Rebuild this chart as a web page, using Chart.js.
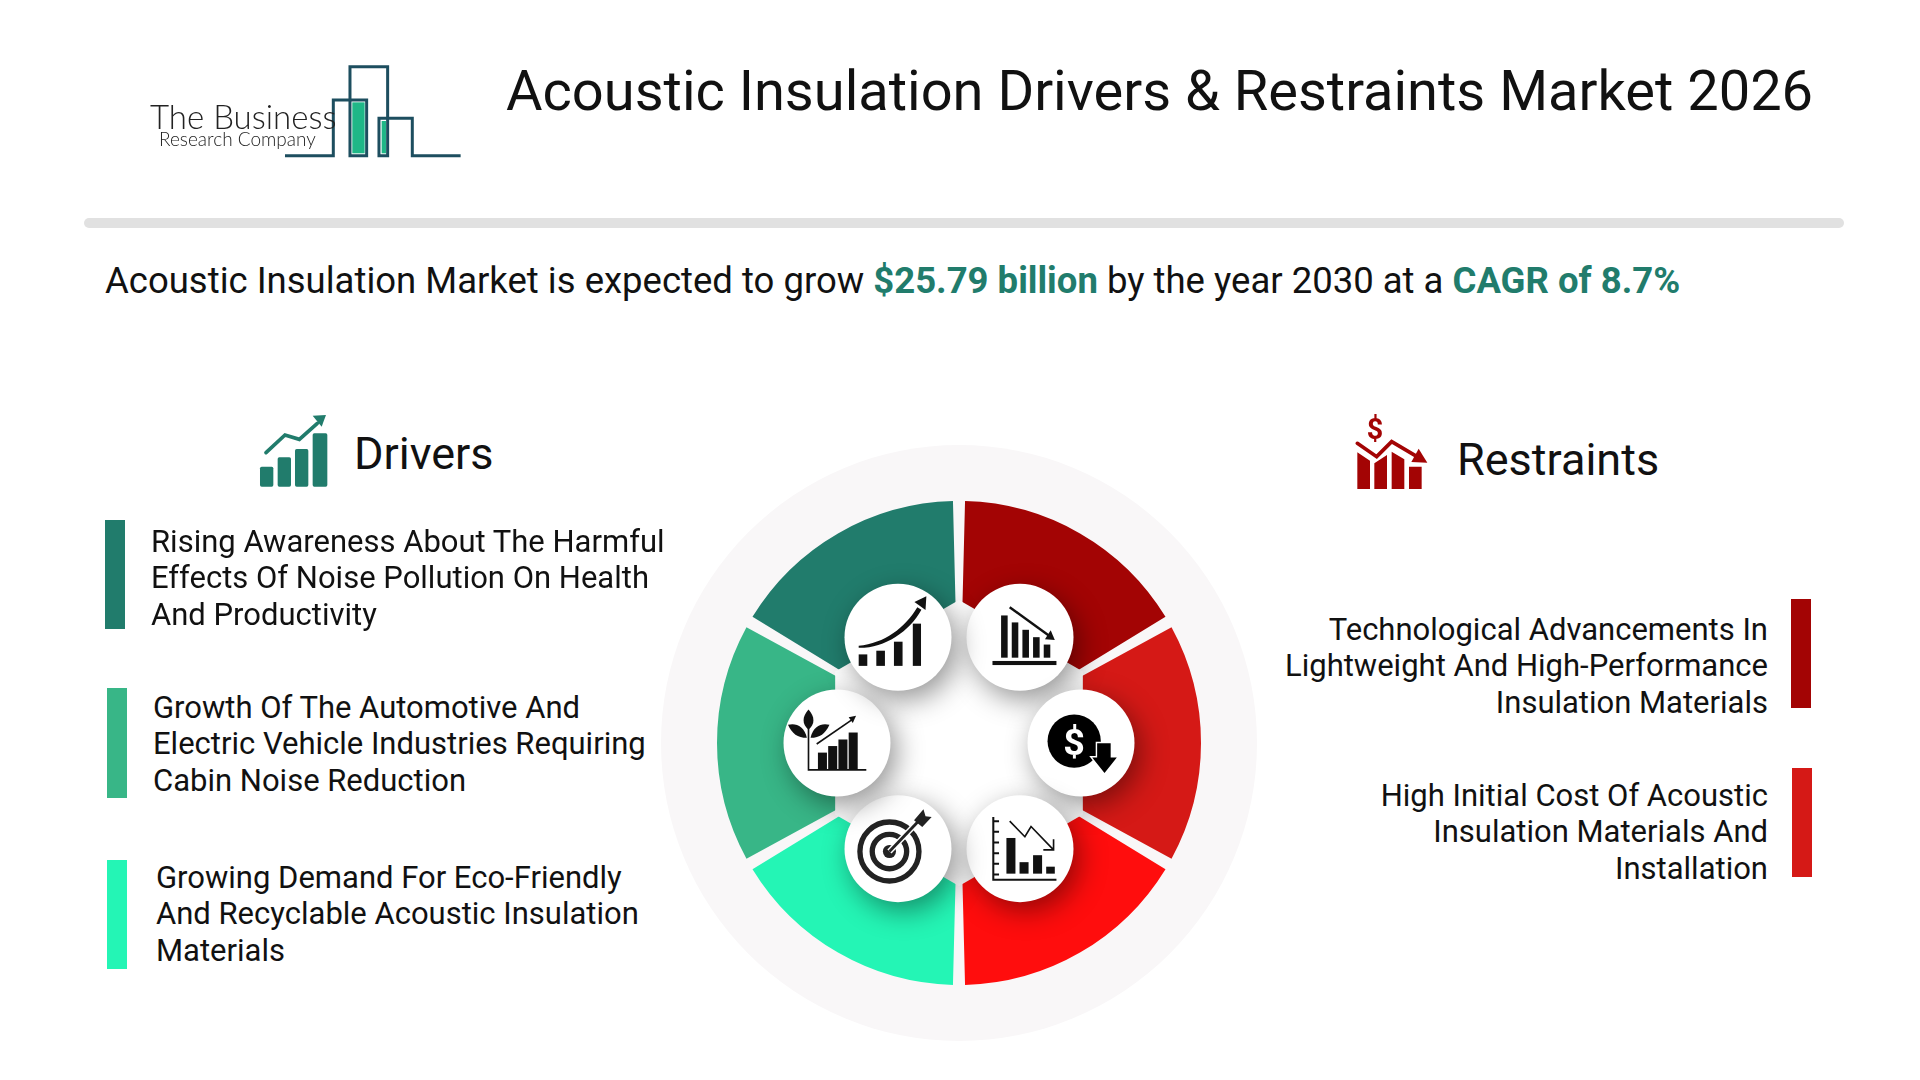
<!DOCTYPE html>
<html><head><meta charset="utf-8">
<script src="https://cdn.jsdelivr.net/npm/chart.js@4"></script>
<style>
html,body{margin:0;padding:0;background:#fff;width:1920px;height:1080px;overflow:hidden}
body{font-family:Roboto,sans-serif;color:#111;position:relative}
.t{position:absolute;white-space:nowrap;line-height:1}
.l{position:absolute;white-space:nowrap;font-size:31px;line-height:36.4px}
.r{text-align:right}
.b{position:absolute;width:20px}
svg{position:absolute;left:0;top:0;z-index:3}
#w{position:absolute;left:649px;top:433px;width:620px;height:620px}
</style></head><body>
<div id="w"><canvas id="c" width="620" height="620"></canvas></div>
<div id="root"></div>
<svg width="1920" height="1080" viewBox="0 0 1920 1080">
 <!-- logo -->
 <g transform="translate(120 40) scale(.3333)">
  <rect x="697" y="187" width="37" height="153" fill="#1fb787"/><rect x="785" y="243" width="13" height="97" fill="#1fb787"/>
  <path d="M495 347H640V180H740V347H690V80H803V347H777V235H877V347H1022" fill="none" stroke="#1d4e5f" stroke-width="9"/>
 </g>
 <text x="150" y="129" font-family="Lato" font-weight="300" font-size="33" fill="#222">The Business</text>
 <text x="159" y="146" font-family="Lato" font-weight="300" font-size="19" fill="#222">Research Company</text>
 <!-- drivers icon -->
 <g transform="translate(240 400) scale(.3333)" fill="#217c6c">
  <rect x="60" y="200" width="40" height="60" rx="5"/><rect x="113" y="172" width="40" height="88" rx="5"/><rect x="165" y="147" width="40" height="113" rx="5"/><rect x="218" y="100" width="44" height="160" rx="5"/>
  <path d="M78 158L135 105L178 118L232 70" fill="none" stroke="#217c6c" stroke-width="11" stroke-linecap="round"/>
  <path d="M218 47L258 45L245 80Z"/>
 </g>
 <!-- restraints icon -->
 <g transform="translate(1340 400) scale(.3333)" fill="#a30404">
  <text x="105" y="118" text-anchor="middle" font-family="Roboto" font-weight="700" font-size="86">$</text>
  <path d="M52 157L90 182V267H52ZM103 190L141 165V267H103ZM155 155L193 178V267H155ZM207 200H245V267H207Z"/>
  <path d="M52 130L110 170L155 125L235 172" fill="none" stroke="#fff" stroke-width="20"/>
  <path d="M52 130L110 170L155 125L235 172" fill="none" stroke="#a30404" stroke-width="11" stroke-linecap="round"/>
  <path d="M236 146L262 188L214 186Z"/>
 </g>
 <!-- icon 1 growth -->
 <g transform="translate(896 638) scale(.41) translate(-628 -525)" fill="#111">
  <rect x="537" y="565" width="21" height="28"/><rect x="580" y="556" width="21" height="37"/><rect x="623" y="534" width="21" height="59"/><rect x="669" y="490" width="20" height="103"/>
  <path d="M537 544C600 538 650 500 680 450L690 456C660 510 600 550 537 549Z"/>
  <path d="M673 437L702 423L700 457Z"/>
 </g>
 <!-- icon 2 falling bars -->
 <g transform="translate(1022 638) scale(.41) translate(-938 -525)" fill="#111">
  <rect x="887" y="470" width="16" height="103"/><rect x="913" y="487" width="16" height="86"/><rect x="939" y="505" width="16" height="68"/><rect x="965" y="523" width="16" height="50"/><rect x="991" y="541" width="16" height="32"/>
  <rect x="866" y="581" width="156" height="10"/>
  <path d="M908 450L1005 520" stroke="#111" stroke-width="6" fill="none"/><path d="M994 528L1018 530L1008 506Z"/>
 </g>
 <!-- icon 3 dollar -->
 <g transform="translate(1075 744) scale(.41) translate(-1068 -797)">
  <circle cx="1066" cy="790" r="65" fill="#000"/>
  <text x="1066" y="823" text-anchor="middle" font-family="Roboto" font-weight="700" font-size="92" fill="#fff">$</text>
  <path d="M1122 795H1155V830H1170L1140 868L1110 830H1122Z" fill="#000" stroke="#fff" stroke-width="7" paint-order="stroke"/>
 </g>
 <!-- icon 4 chart down -->
 <g transform="translate(1022 847) scale(.41) translate(-938 -1055)" fill="#111">
  <path d="M868 982V1135H1022M868 992H882M868 1018H882M868 1044H882M868 1070H882M868 1096H882M868 1122H882" fill="none" stroke="#111" stroke-width="5"/>
  <rect x="900" y="1033" width="22" height="87"/><rect x="932" y="1092" width="22" height="28"/><rect x="965" y="1075" width="22" height="45"/><rect x="997" y="1103" width="21" height="17"/>
  <path d="M908 992L945 1030L960 1005L1015 1062M1015 1036V1062H990" fill="none" stroke="#111" stroke-width="4"/>
 </g>
 <!-- icon 5 target -->
 <g transform="translate(896 847) scale(.41) translate(-628 -1055)">
  <circle cx="612" cy="1066" r="72" fill="none" stroke="#222" stroke-width="13"/>
  <circle cx="612" cy="1066" r="42" fill="none" stroke="#222" stroke-width="13"/>
  <circle cx="612" cy="1066" r="16" fill="#222"/>
  <path d="M612 1066L685 990" stroke="#fff" stroke-width="14"/><path d="M612 1066L685 990" stroke="#222" stroke-width="7"/>
  <path d="M672 990L695 963L700 980L715 982L692 1006Z" fill="#222"/>
 </g>
 <!-- icon 6 plant -->
 <g transform="translate(829 744) scale(.41) translate(-462 -797)" fill="#111">
  <path d="M412 745V860H553" fill="none" stroke="#111" stroke-width="4"/>
  <rect x="435" y="818" width="22" height="42"/><rect x="460" y="802" width="22" height="58"/><rect x="485" y="786" width="22" height="74"/><rect x="510" y="769" width="22" height="91"/>
  <path d="M432 797L522 735" stroke="#111" stroke-width="4" fill="none"/><path d="M510 732L528 728L520 746Z"/>
  <path d="M412 713C428 730 428 750 412 762C396 750 396 730 412 713Z"/>
  <path d="M362 750C380 745 402 752 408 782C385 782 372 772 362 750Z"/>
  <path d="M463 750C445 745 423 752 417 782C440 782 453 772 463 750Z"/>
 </g>
</svg>
<script>
const titleText = "Acoustic Insulation Drivers & Restraints Market 2026";
const headlineParts = ["Acoustic Insulation Market is expected to grow ", "$25.79 billion", " by the year 2030 at a ", "CAGR of 8.7%"];
const driversTitle = "Drivers";
const restraintsTitle = "Restraints";
const driverLines = [
 ["Rising Awareness About The Harmful","Effects Of Noise Pollution On Health","And Productivity"],
 ["Growth Of The Automotive And","Electric Vehicle Industries Requiring","Cabin Noise Reduction"],
 ["Growing Demand For Eco-Friendly","And Recyclable Acoustic Insulation","Materials"]];
const restraintLines = [
 ["Technological Advancements In","Lightweight And High-Performance","Insulation Materials"],
 ["High Initial Cost Of Acoustic","Insulation Materials And","Installation"]];
const wedgeLabels = ["Restraint 1","Restraint 2","Restraint 3","Driver 3","Driver 2","Driver 1"];
const wedgeValues = [1,1,1,1,1,1];
const wedgeColors = ["#a30404","#d51916","#ff0d0d","#24f5b5","#38b687","#217c6c"];

const root=document.getElementById('root');
function add(cls,css,html){const d=document.createElement('div');d.className=cls;d.style.cssText=css;d.innerHTML=html;root.appendChild(d);}
add('t','left:506px;top:63px;font-size:56px',titleText.replace('&','&amp;'));
add('','position:absolute;left:84px;top:218px;width:1760px;height:10px;border-radius:5px;background:#e1e1e1','');
const G='color:#217c6c;font-weight:700';
add('t','left:105px;top:263px;font-size:36.5px',headlineParts[0]+`<span style="${G}">${headlineParts[1]}</span>`+headlineParts[2]+`<span style="${G}">${headlineParts[3]}</span>`);
add('t','left:354px;top:431px;font-size:45px',driversTitle);
add('t','left:1457px;top:437px;font-size:45px',restraintsTitle);
const dBars=[[105,520,109,wedgeColors[5]],[107,688,110,wedgeColors[4]],[107,860,109,wedgeColors[3]]];
const dText=[[151,524],[153,690],[156,860]];
driverLines.forEach((ls,i)=>{const b=dBars[i];
 add('b',`left:${b[0]}px;top:${b[1]}px;height:${b[2]}px;background:${b[3]}`,'');
 add('l',`left:${dText[i][0]}px;top:${dText[i][1]}px`,ls.join('<br>'));});
const rBars=[[1791,599,109,wedgeColors[0]],[1792,768,109,wedgeColors[1]]];
const rText=[612,778];
restraintLines.forEach((ls,i)=>{const b=rBars[i];
 add('b',`left:${b[0]}px;top:${b[1]}px;height:${b[2]}px;background:${b[3]}`,'');
 add('l r',`right:${1920-1768}px;top:${rText[i]}px`,ls.join('<br>'));});

const decor={id:'decor',
 beforeDatasetsDraw(ch){const a=ch.getDatasetMeta(0).data[0],c=ch.ctx;
  c.save();c.fillStyle='#f9f7f8';c.beginPath();c.arc(a.x,a.y,298,0,Math.PI*2);c.fill();c.restore();},
 afterDatasetsDraw(ch){const m=ch.getDatasetMeta(0).data,c=ch.ctx,x=m[0].x,y=m[0].y;
  c.save();c.fillStyle='#fff';c.beginPath();
  for(let i=0;i<6;i++){const t=-Math.PI/2+i*Math.PI/3,r=143;c[i?'lineTo':'moveTo'](x+r*Math.cos(t),y+r*Math.sin(t));}
  c.closePath();c.fill();
  m.forEach(e=>{const t=(e.startAngle+e.endAngle)/2;
   c.shadowColor='rgba(0,0,0,.42)';c.shadowBlur=28;c.shadowOffsetX=6;c.shadowOffsetY=9;
   c.fillStyle='#fff';c.beginPath();c.arc(x+122*Math.cos(t),y+122*Math.sin(t),53.5,0,Math.PI*2);c.fill();});
  c.restore();}};
new Chart(document.getElementById('c'),{type:'doughnut',
 data:{labels:wedgeLabels,datasets:[{data:wedgeValues,backgroundColor:wedgeColors,borderWidth:0,spacing:16}]},
 options:{responsive:false,animation:false,radius:234,cutout:'40%',events:[],
  plugins:{legend:{display:false},tooltip:{enabled:false}}},
 plugins:[decor]});
</script>
</body></html>
